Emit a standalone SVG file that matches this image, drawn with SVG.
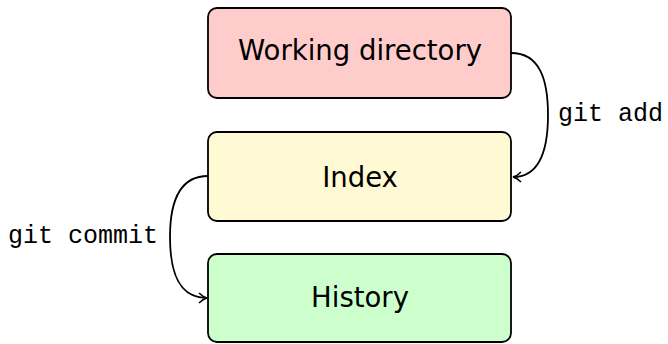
<svg xmlns="http://www.w3.org/2000/svg" width="668" height="344" viewBox="0 0 668 344">
<style>
.box{stroke:#000;stroke-width:1.8}
.lbl{font-family:"DejaVu Sans","Liberation Sans",sans-serif;font-size:27.5px;text-anchor:middle;fill:#000}
.cmd{font-family:"Liberation Mono","DejaVu Sans Mono",monospace;font-size:25px;fill:#000}
.edge{fill:none;stroke:#000;stroke-width:1.8;marker-end:url(#arr)}
</style>
<defs>
<marker id="arr" viewBox="0 0 10 12" refX="9" refY="6" markerWidth="10" markerHeight="12" markerUnits="userSpaceOnUse" orient="auto">
<path d="M1,1 Q5,5 9,6 Q5,7 1,11" fill="none" stroke="#000" stroke-width="1.6"/>
</marker>
</defs>
<g id="working">
<rect class="box" x="208" y="8" width="303" height="90" rx="9" fill="#ffcccc"/>
<text class="lbl" x="360" y="60">Working directory</text>
</g>
<g id="index">
<rect class="box" x="208" y="132" width="303" height="89" rx="9" fill="#fffad4"/>
<text class="lbl" x="360" y="187">Index</text>
</g>
<g id="history">
<rect class="box" x="208" y="254" width="303" height="88" rx="9" fill="#ccffcc"/>
<text class="lbl" x="360" y="307">History</text>
</g>
<g id="connectors">
<path class="edge" d="M511,53 C540,53 548,80 548,115 C548,150 540,177 513,177"/>
<text class="cmd" x="558" y="121">git add</text>
<path class="edge" d="M208,176 C180,176 170,200 170,237 C170,275 180,298 207,298"/>
<text class="cmd" x="8" y="243">git commit</text>
</g>
</svg>
